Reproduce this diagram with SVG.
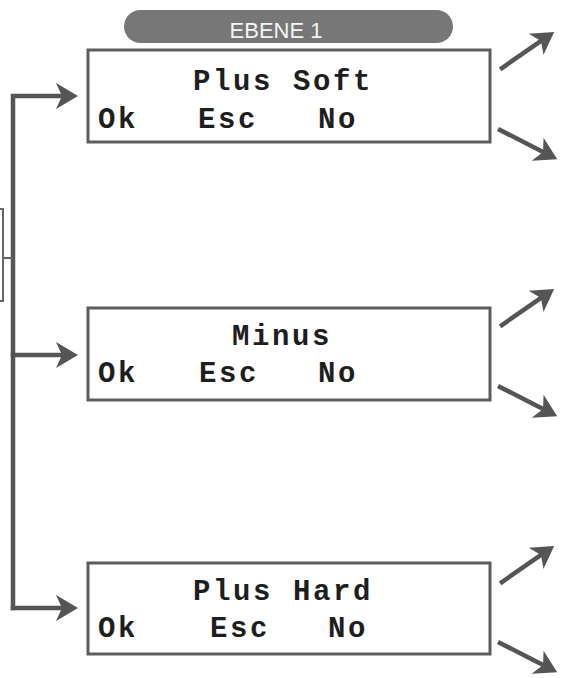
<svg xmlns="http://www.w3.org/2000/svg" width="565" height="678" viewBox="0 0 565 678">
<style>
.box{fill:#fff;stroke:#5c5c5c;stroke-width:3}
.conn{fill:none;stroke:#555;stroke-width:4.5;stroke-linecap:square}
.lcd{font-family:"Liberation Mono","Courier New",monospace;font-weight:bold;font-size:29px;letter-spacing:2.6px;fill:#1e1e1e}
.pill{fill:#777}
.pilltxt{font-family:"Liberation Sans",Arial,sans-serif;font-size:22px;fill:#f4f4f4;text-anchor:middle}
</style>
<defs>
<marker id="ah" markerUnits="userSpaceOnUse" markerWidth="26" markerHeight="30" viewBox="0 -15 26 30" refX="6" refY="0" orient="auto">
<path d="M0,-13 L22,0 L0,13 L6,0 Z" fill="#555"/>
</marker>
</defs>
<rect width="565" height="678" fill="#fff"/>
<g id="header">
<rect class="pill" x="124" y="10" width="329" height="33" rx="16.5"/>
<text class="pilltxt" x="276" y="38">EBENE 1</text>
</g>
<g id="connectors">
<path class="conn" d="M13,608 V96 H62" marker-end="url(#ah)"/>
<path class="conn" d="M13,355 H62" marker-end="url(#ah)"/>
<path class="conn" d="M13,608 H62" marker-end="url(#ah)"/>
<path d="M0,209 H3 V301 H0 M3,258 H13" fill="none" stroke="#666" stroke-width="2"/>
<path class="conn" d="M502,68 L541,41" marker-end="url(#ah)"/>
<path class="conn" d="M500,130 L543,152" marker-end="url(#ah)"/>
<path class="conn" d="M502,325 L541,298" marker-end="url(#ah)"/>
<path class="conn" d="M500,387 L543,409" marker-end="url(#ah)"/>
<path class="conn" d="M502,582 L541,555" marker-end="url(#ah)"/>
<path class="conn" d="M500,643 L543,665" marker-end="url(#ah)"/>
</g>
<g id="box-plus-soft">
<rect class="box" x="88" y="50" width="402" height="92"/>
<text class="lcd" x="193" y="90">Plus Soft</text>
<text class="lcd" x="98" y="128">Ok</text>
<text class="lcd" x="198" y="128">Esc</text>
<text class="lcd" x="318" y="128">No</text>
</g>
<g id="box-minus">
<rect class="box" x="88" y="308" width="402" height="92"/>
<text class="lcd" x="232" y="345">Minus</text>
<text class="lcd" x="98" y="382">Ok</text>
<text class="lcd" x="199" y="382">Esc</text>
<text class="lcd" x="318" y="382">No</text>
</g>
<g id="box-plus-hard">
<rect class="box" x="88" y="563" width="402" height="91"/>
<text class="lcd" x="193" y="600">Plus Hard</text>
<text class="lcd" x="98" y="637">Ok</text>
<text class="lcd" x="210" y="637">Esc</text>
<text class="lcd" x="328" y="637">No</text>
</g>
</svg>
